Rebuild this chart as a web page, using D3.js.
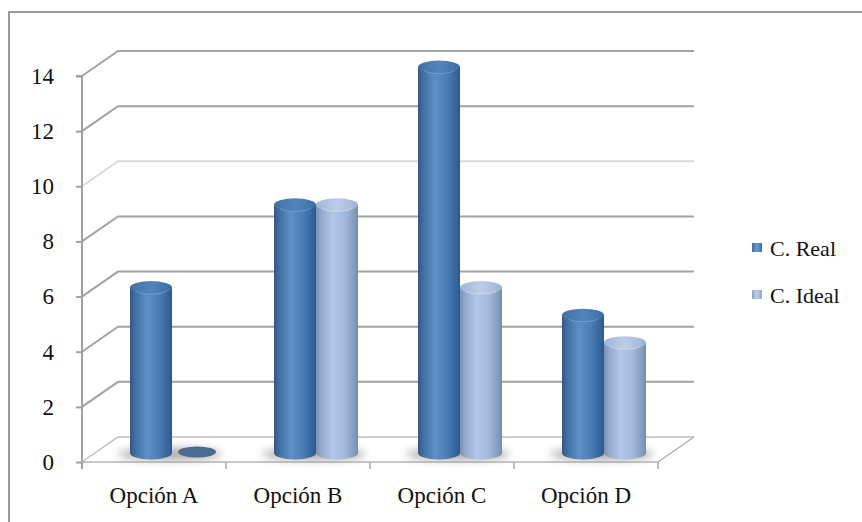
<!DOCTYPE html>
<html>
<head>
<meta charset="utf-8">
<script src="https://cdn.jsdelivr.net/npm/d3@7"></script>
<style>
  html, body { margin: 0; padding: 0; background: #fff; }
  svg text { font-family: "Liberation Serif", "DejaVu Serif", serif; fill: #111; }
</style>
</head>
<body>
<svg id="chart" width="862" height="522"></svg>
<script>
// Chart data
const categories = ["Opción A", "Opción B", "Opción C", "Opción D"];
const seriesNames = ["C. Real", "C. Ideal"];
const realValues = [6, 9, 14, 5];
const idealValues = [0, 9, 6, 4];
const yTicks = [0, 2, 4, 6, 8, 10, 12, 14];

const svg = d3.select("#chart");
const W = 862, H = 522;

// Chart frame
svg.append("rect").attr("x", 9).attr("y", 12).attr("width", W + 20).attr("height", H + 20)
  .attr("fill", "none").attr("stroke", "#9a9a9a").attr("stroke-width", 2);

// Plot geometry (front plane + depth offset of the 3D box)
const x0 = 82, x1 = 658;
const depthX = 36, depthY = -25;
const y = d3.scaleLinear().domain([0, 14]).range([462, 76]);
const x = d3.scaleBand().domain(categories).range([x0, x1]).paddingInner(0).paddingOuter(0);
const barW = 42;
const xSub = d3.scaleBand().domain(seriesNames).range([0, barW * 2]).padding(0);

const defs = svg.append("defs");

function hGrad(id, stops) {
  const g = defs.append("linearGradient").attr("id", id)
    .attr("x1", "0%").attr("x2", "100%").attr("y1", "0%").attr("y2", "0%");
  stops.forEach(s => g.append("stop").attr("offset", s[0]).attr("stop-color", s[1]));
}
hGrad("gReal", [["0%", "#2f5a8a"], ["12%", "#3e6ea3"], ["40%", "#5c90c6"], ["70%", "#4a7db4"], ["92%", "#35649a"], ["100%", "#2c5686"]]);
hGrad("gIdeal", [["0%", "#7a90b3"], ["12%", "#92a9cc"], ["40%", "#b3c7e5"], ["70%", "#a2b8d9"], ["92%", "#8399bd"], ["100%", "#768bad"]]);
hGrad("gRealTop", [["0%", "#3f6fa5"], ["50%", "#5385bd"], ["100%", "#3d6ca1"]]);
hGrad("gIdealTop", [["0%", "#9fb4d6"], ["50%", "#bccde8"], ["100%", "#9cb1d3"]]);
hGrad("gLegReal", [["0%", "#3c6ca3"], ["50%", "#6a9bd0"], ["100%", "#3c6ca3"]]);
hGrad("gLegIdeal", [["0%", "#8ea4c8"], ["50%", "#c2d2ec"], ["100%", "#8ea4c8"]]);

const blur = defs.append("filter").attr("id", "soft").attr("x", "-50%").attr("y", "-100%")
  .attr("width", "200%").attr("height", "300%");
blur.append("feGaussianBlur").attr("stdDeviation", 4);

// Back wall gridlines with their diagonal side edges
const grid = svg.append("g");
yTicks.forEach(t => {
  const yy = y(t);
  const col = t === 0 ? "#bdbdbd" : (t === 10 ? "#d9d9d9" : "#a3a3a3");
  grid.append("path")
    .attr("d", `M${x0},${yy} L${x0 + depthX},${yy + depthY} L${x1 + depthX},${yy + depthY}`)
    .attr("fill", "none").attr("stroke", col).attr("stroke-width", t === 0 ? 1.5 : 2);
});
// right floor edge
svg.append("line").attr("x1", x1).attr("y1", y(0)).attr("x2", x1 + depthX).attr("y2", y(0) + depthY)
  .attr("stroke", "#b0b0b0").attr("stroke-width", 1.5);

// Y axis
const yAxis = svg.append("g").attr("transform", `translate(${x0},0)`)
  .call(d3.axisLeft(y).tickValues(yTicks).tickSize(6).tickPadding(22).tickFormat(d3.format("d")));
yAxis.select(".domain").attr("stroke", "#a0a0a0").attr("stroke-width", 2)
  .attr("d", `M-6,${y(14)}H0V${y(0) + 7}`);
yAxis.selectAll(".tick line").attr("stroke", "#a0a0a0").attr("stroke-width", 2);
yAxis.selectAll(".tick text").attr("font-size", 23).attr("fill", "#111")
  .attr("font-family", "Liberation Serif, serif");

// X axis (front floor edge)
const xAxis = svg.append("g").attr("transform", `translate(0,${y(0)})`)
  .call(d3.axisBottom(x).tickSize(0).tickPadding(25));
xAxis.select(".domain").attr("stroke", "#b5b5b5").attr("stroke-width", 1.5).attr("d", `M${x0},0H${x1}`);
xAxis.selectAll(".tick text").attr("font-size", 23).attr("fill", "#111")
  .attr("font-family", "Liberation Serif, serif");
// category separator ticks
xAxis.selectAll(".sep").data(categories).enter().append("line")
  .attr("x1", d => x(d) + x.bandwidth()).attr("x2", d => x(d) + x.bandwidth())
  .attr("y1", 0).attr("y2", 7).attr("stroke", "#a8a8a8").attr("stroke-width", 1.5);

// Bars as cylinders standing midway into the box depth
const rows = categories.map((c, i) => ({ cat: c, vals: [realValues[i], idealValues[i]] }));
const baseShift = 9; // vertical shift from front plane to the bar plane
const ry = 6.5;

const groups = svg.append("g").selectAll("g").data(rows).enter().append("g")
  .attr("transform", d => `translate(${x(d.cat) + x.bandwidth() / 2 + depthX / 2 - barW},0)`);

// floor shadows
groups.append("ellipse")
  .attr("cx", barW - 2).attr("cy", y(0) - baseShift + 1)
  .attr("rx", barW + 10).attr("ry", 6)
  .attr("fill", "#8d8d8d").attr("opacity", 0.75).attr("filter", "url(#soft)");

groups.each(function (d) {
  const g = d3.select(this);
  d.vals.forEach((v, j) => {
    const name = seriesNames[j];
    const bx = xSub(name);
    const cx = bx + barW / 2;
    const baseY = y(0) - baseShift;
    const topY = y(v) - baseShift;
    if (v <= 0) {
      g.append("ellipse").attr("cx", cx + 4).attr("cy", baseY - 1).attr("rx", barW / 2 - 2).attr("ry", ry - 1)
        .attr("fill", "#4c6a90");
      return;
    }
    const fill = j === 0 ? "url(#gReal)" : "url(#gIdeal)";
    const topFill = j === 0 ? "url(#gRealTop)" : "url(#gIdealTop)";
    g.append("path")
      .attr("d", `M${bx},${topY} L${bx},${baseY} A${barW / 2},${ry} 0 0 0 ${bx + barW},${baseY} L${bx + barW},${topY} Z`)
      .attr("fill", fill);
    g.append("ellipse").attr("cx", cx).attr("cy", topY).attr("rx", barW / 2).attr("ry", ry)
      .attr("fill", topFill);
    g.append("path")
      .attr("d", `M${bx + 6},${topY + 3} A${barW / 2 - 6},${ry - 3} 0 0 0 ${bx + barW - 6},${topY + 3}`)
      .attr("fill", "none").attr("stroke", j === 0 ? "#7aa6d6" : "#d3def0").attr("stroke-width", 1).attr("opacity", 0.7);
  });
});

// Legend
const legend = svg.append("g").attr("transform", "translate(752,243)");
seriesNames.forEach((n, i) => {
  const row = legend.append("g").attr("transform", `translate(0,${i * 47})`);
  row.append("rect").attr("width", 10).attr("height", 9)
    .attr("fill", i === 0 ? "url(#gLegReal)" : "url(#gLegIdeal)");
  row.append("text").attr("x", 18).attr("y", 13).attr("font-size", 22).text(n);
});
</script>
</body>
</html>
